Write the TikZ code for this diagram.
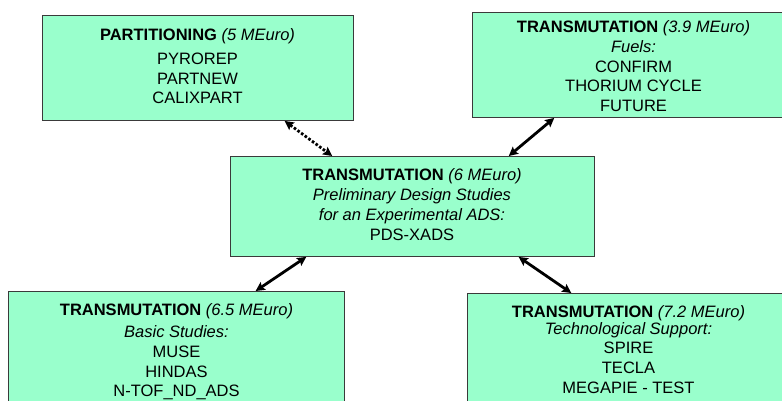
\documentclass[tikz,border=0pt]{standalone}
\usepackage{fontspec}
\setmainfont{Liberation Sans}
\usetikzlibrary{arrows.meta,calc}
\definecolor{boxfill}{HTML}{99FFCC}
\definecolor{boxline}{HTML}{3A3A3A}
\begin{document}
\begin{tikzpicture}[x=1pt,y=-1pt,
  box/.style={draw=boxline, fill=boxfill, line width=0.9pt, rectangle, anchor=north west, inner sep=0pt},
  txt/.style={align=center, anchor=base, inner sep=0pt, font=\fontsize{16.5}{19.7}\selectfont},
  link/.style={line width=2.8pt, {Stealth[length=9pt,width=9pt,inset=1.5pt]}-{Stealth[length=9pt,width=9pt,inset=1.5pt]}},
  dotlink/.style={link, dash pattern=on 2.6pt off 1.9pt}]
\useasboundingbox (0,0) rectangle (782,401);
\clip (0,0) rectangle (782,401);
% boxes
\node[box, minimum width=311pt, minimum height=105pt] (part) at (42,15) {};
\node[box, minimum width=323pt, minimum height=105pt] (fuel) at (472,12) {};
\node[box, minimum width=364pt, minimum height=100pt] (pds) at (230,156) {};
\node[box, minimum width=336pt, minimum height=130pt] (basic) at (8,291) {};
\node[box, minimum width=323pt, minimum height=130pt] (tech) at (467,293) {};
% texts (anchor = baseline of last line)
\node[txt] (parttxt) at (197.5,104) {\textbf{PARTITIONING} \textit{(5 MEuro)}\\[4.3pt] PYROREP\\ PARTNEW\\ CALIXPART};
\node[txt] (fueltxt) at (633.5,111.5) {\textbf{TRANSMUTATION} \textit{(3.9 MEuro)}\\ \textit{Fuels:}\\ CONFIRM\\ THORIUM CYCLE\\ FUTURE};
\node[txt, font=\fontsize{16.5}{20}\selectfont] (pdstxt) at (412,240.7) {\textbf{TRANSMUTATION} \textit{(6 MEuro)}\\ \textit{Preliminary Design Studies}\\ \textit{for an Experimental ADS:}\\ PDS-XADS};
\node[txt] (basictxt) at (176.5,396.7) {\textbf{TRANSMUTATION} \textit{(6.5 MEuro)}\\[2.3pt] \textit{Basic Studies:}\\ MUSE\\ HINDAS\\ N-TOF\_ND\_ADS};
\node[txt] (techtxt) at (628.5,393.3) {\textbf{TRANSMUTATION} \textit{(7.2 MEuro)}\\[-2.7pt] \textit{Technological Support:}\\ SPIRE\\ TECLA\\ MEGAPIE - TEST};
% connectors
\draw[dotlink] ($(part.south west)!0.778!(part.south east)$) -- ($(pds.north west)!0.28!(pds.north east)$);
\draw[link] ($(fuel.south west)!0.254!(fuel.south east)$) -- ($(pds.north west)!0.764!(pds.north east)$);
\draw[link] ($(pds.south west)!0.209!(pds.south east)$) -- ($(basic.north west)!0.735!(basic.north east)$);
\draw[link] ($(pds.south west)!0.791!(pds.south east)$) -- ($(tech.north west)!0.322!(tech.north east)$);
\end{tikzpicture}
\end{document}
